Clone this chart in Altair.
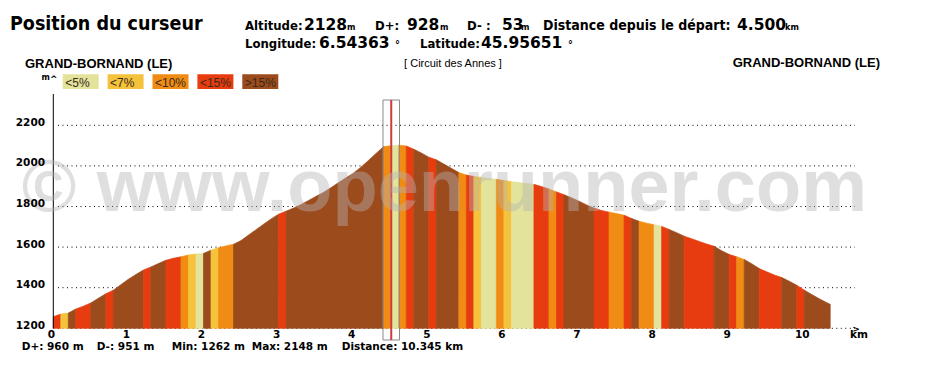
import altair as alt
import pandas as pd

# ---------------- data ----------------
DIST_KM = [0.0, 0.1, 0.2, 0.3, 0.4, 0.5, 0.6, 0.7, 0.8, 0.9,
           1.0, 1.1, 1.2, 1.3, 1.4, 1.5, 1.6, 1.7, 1.8, 1.9,
           2.0, 2.1, 2.2, 2.3, 2.4, 2.5, 2.6, 2.7, 2.8, 2.9,
           3.0, 3.1, 3.2, 3.3, 3.4, 3.5, 3.6, 3.7, 3.8, 3.9,
           4.0, 4.1, 4.2, 4.3, 4.4, 4.5, 4.6, 4.7, 4.8, 4.9,
           5.0, 5.1, 5.2, 5.3, 5.4, 5.5, 5.6, 5.7, 5.8, 5.9,
           6.0, 6.1, 6.2, 6.3, 6.4, 6.5, 6.6, 6.7, 6.8, 6.9,
           7.0, 7.1, 7.2, 7.3, 7.4, 7.5, 7.6, 7.7, 7.8, 7.9,
           8.0, 8.1, 8.2, 8.3, 8.4, 8.5, 8.6, 8.7, 8.8, 8.9,
           9.0, 9.1, 9.2, 9.3, 9.4, 9.5, 9.6, 9.7, 9.8, 9.9,
           10.0, 10.1, 10.2, 10.3, 10.345]
ALT_M = [1257, 1270, 1275, 1295, 1309, 1325, 1348, 1370, 1388, 1415,
         1442, 1465, 1487, 1502, 1519, 1535, 1545, 1552, 1561, 1566,
         1569, 1585, 1597, 1606, 1614, 1632, 1659, 1686, 1713, 1739,
         1762, 1777, 1792, 1810, 1830, 1850, 1870, 1893, 1918, 1942,
         1965, 1995, 2028, 2062, 2095, 2099, 2102, 2098, 2082, 2064,
         2043, 2030, 2009, 1988, 1967, 1955, 1948, 1943, 1938, 1934,
         1928, 1922, 1918, 1913, 1909, 1898, 1886, 1872, 1858, 1843,
         1826, 1808, 1792, 1780, 1772, 1765, 1757, 1741, 1727, 1718,
         1710, 1702, 1687, 1671, 1654, 1641, 1628, 1615, 1604, 1582,
         1564, 1552, 1539, 1518, 1494, 1478, 1463, 1450, 1432, 1412,
         1388, 1366, 1345, 1326, 1318]
# grade class of each stretch (L <5%, Y <7%, O <10%, R <15%, B >15%)
GRADE = list(
    "RYBRRBBRBB"
    "BBRBBRROYL"
    "BYOOBBBBBB"
    "RBBBBBBBBB"
    "BBBBOLORBB"
    "RBBBORYLLO"
    "YLLLRRORBB"
    "BBRROORBOO"
    "LRBBRRRRBB"
    "ROBBRRRBBR"
    "BBBB"
)
assert len(GRADE) == len(DIST_KM) - 1

GRADE_KEYS = ["L", "Y", "O", "R", "B"]
GRADE_LABELS = ["<5%", "<7%", "<10%", "<15%", ">15%"]
GRADE_COLORS = ["#e3e39c", "#f5c23b", "#f08c14", "#e73c10", "#9c4b1d"]

Y_TICKS = [1200, 1400, 1600, 1800, 2000, 2200]
X_TICKS = [0, 1, 2, 3, 4, 5, 6, 7, 8, 9, 10]
CURSOR_KM = 4.5

# ---------------- geometry (chart px = page px - 8) ----------------
W, H = 920, 345
XS = alt.Scale(domain=[0, 10], range=[45.3, 796.3], nice=False, zero=False)
YS = alt.Scale(domain=[1200, 2200], range=[320.3, 117.3], nice=False, zero=False)
CS = alt.Scale(domain=GRADE_KEYS, range=GRADE_COLORS)

# segments of equal grade class
rows = []
seg = 0
for i, g in enumerate(GRADE):
    if i > 0 and g != GRADE[i - 1]:
        seg += 1
    if i == 0 or g != GRADE[i - 1]:
        rows.append(dict(seg=seg, km=DIST_KM[i], alt=ALT_M[i], grade=g))
    rows.append(dict(seg=seg, km=DIST_KM[i + 1], alt=ALT_M[i + 1], grade=g))
prof = pd.DataFrame(rows)

HEAD = "DejaVu Sans Condensed"
NUM = "DejaVu Sans"
AX = "DejaVu Sans"
ARIAL = "Liberation Sans"


def txt(s, x, y, size, weight="normal", font=HEAD, align="left", color="#000000"):
    return alt.Chart(pd.DataFrame({"t": [s]})).mark_text(
        align=align, baseline="alphabetic", font=font, fontSize=size,
        fontWeight=weight, color=color
    ).encode(x=alt.value(x - 8), y=alt.value(y - 8), text="t:N")


grid = alt.Chart(pd.DataFrame({"v": Y_TICKS[1:]})).mark_rule(
    color="#000000", strokeWidth=1, strokeDash=[1, 3.5]
).encode(y=alt.Y("v:Q", scale=YS, axis=None), x=alt.value(50), x2=alt.value(847))

xaxis = alt.Chart(pd.DataFrame({"v": Y_TICKS[:1]})).mark_rule(
    color="#000000", strokeWidth=1, strokeDash=[1, 3.5]
).encode(y=alt.Y("v:Q", scale=YS, axis=None), x=alt.value(45.3), x2=alt.value(847))

area = alt.Chart(prof).mark_area(strokeWidth=0.7, opacity=1, interpolate="linear").encode(
    x=alt.X("km:Q", scale=XS, axis=None),
    y=alt.Y("alt:Q", scale=YS, axis=None, stack=False),
    y2=alt.datum(1200),
    color=alt.Color("grade:N", scale=CS, legend=None),
    stroke=alt.Stroke("grade:N", scale=CS, legend=None),
    detail="seg:N",
)

yaxis = alt.Chart(pd.DataFrame({"v": [0]})).mark_rule(color="#000000", strokeWidth=1).encode(
    x=alt.value(45.3), y=alt.value(86), y2=alt.value(320.3)
)

cur = pd.DataFrame({"km": [CURSOR_KM], "a": [CURSOR_KM - 0.11], "b": [CURSOR_KM + 0.11]})
cbox = alt.Chart(cur).mark_rect(fill="white", fillOpacity=0, stroke="#8a8a8a", strokeWidth=1).encode(
    x=alt.X("a:Q", scale=XS, axis=None), x2="b:Q", y=alt.value(92), y2=alt.value(332)
)
cline = alt.Chart(cur).mark_rule(color="#cf3b3b", strokeWidth=2).encode(
    x=alt.X("km:Q", scale=XS, axis=None), y=alt.value(92), y2=alt.value(332)
)

wm = alt.Chart(pd.DataFrame({"t": ["\u00a9 www.openrunner.com"]})).mark_text(
    align="left", baseline="alphabetic", font=ARIAL, fontSize=74, fontWeight="bold",
    color="#b4b4b4", opacity=0.42
).encode(x=alt.value(13.7), y=alt.value(203), text="t:N")

xlab = alt.Chart(pd.DataFrame({"k": X_TICKS, "t": [str(v) for v in X_TICKS]})).mark_text(
    align="center", baseline="alphabetic", font=AX, fontSize=10.5, fontWeight="bold",
    color="#000000", dx=-2
).encode(x=alt.X("k:Q", scale=XS, axis=None), y=alt.value(330.3), text="t:N")

ylab = alt.Chart(pd.DataFrame({"v": Y_TICKS, "t": [str(v) for v in Y_TICKS]})).mark_text(
    align="right", baseline="alphabetic", font=AX, fontSize=10.5, fontWeight="bold",
    color="#000000", dy=0.5
).encode(y=alt.Y("v:Q", scale=YS, axis=None), x=alt.value(37), text="t:N")

leg = pd.DataFrame({
    "grade": GRADE_KEYS,
    "label": GRADE_LABELS,
})
leg["x0"] = [54.7 + i * 44.9 for i in range(5)]
leg["x1"] = leg["x0"] + 36
leg["xt"] = leg["x0"] + 2.5
legbox = alt.Chart(leg).mark_rect().encode(
    x=alt.X("x0:Q", scale=None), x2="x1:Q", y=alt.value(66.3), y2=alt.value(81),
    color=alt.Color("grade:N", scale=CS, legend=None)
)
legtxt = alt.Chart(leg).mark_text(
    align="left", baseline="alphabetic", font=ARIAL, fontSize=12, color="#3a2a1a"
).encode(x=alt.X("xt:Q", scale=None), y=alt.value(78.7), text="label:N")

texts = [
    txt("Position du curseur", 10, 30, 19.5, "bold"),
    txt("Altitude:", 245, 30, 13, "bold"),
    txt("2128", 304, 30, 15.5, "bold", NUM),
    txt("m", 347, 30, 9, "bold"),
    txt("D+:", 375, 30, 13, "bold"),
    txt("928", 407, 30, 15.5, "bold", NUM),
    txt("m", 440, 30, 9, "bold"),
    txt("D- :", 467, 30, 13, "bold"),
    txt("53", 502, 30, 15.5, "bold", NUM),
    txt("m", 521, 30, 9, "bold"),
    txt("Distance depuis le d\u00e9part:", 543, 30, 14, "bold"),
    txt("4.500", 737, 30, 15.5, "bold", NUM),
    txt("km", 785, 30, 9, "bold"),
    txt("Longitude:", 245, 47.7, 13, "bold"),
    txt("6.54363", 319, 47.7, 15.5, "bold", NUM),
    txt("\u00b0", 395, 47.7, 11, "bold"),
    txt("Latitude:", 420, 47.7, 13, "bold"),
    txt("45.95651", 481, 47.7, 15.5, "bold", NUM),
    txt("\u00b0", 568, 47.7, 11, "bold"),
    txt("GRAND-BORNAND (LE)", 25, 68.3, 13, "bold", ARIAL),
    txt("GRAND-BORNAND (LE)", 880, 67.3, 13, "bold", ARIAL, align="right"),
    txt("[ Circuit des Annes ]", 453, 66.7, 11, "normal", ARIAL, align="center"),
    txt("m", 41.5, 80, 8, "bold", AX),
    txt("^", 50, 82, 9, "bold", AX),
    txt(">", 856, 332, 9, "bold", AX, align="center"),
    txt("km", 850, 338.3, 10.5, "bold", AX),
    txt("D+: 960 m", 21.7, 349.5, 10.5, "bold", AX),
    txt("D-: 951 m", 96.7, 349.5, 10.5, "bold", AX),
    txt("Min: 1262 m", 171.7, 349.5, 10.5, "bold", AX),
    txt("Max: 2148 m", 251.7, 349.5, 10.5, "bold", AX),
    txt("Distance: 10.345 km", 341.7, 349.5, 10.5, "bold", AX),
]

chart = alt.layer(
    grid, xaxis, area, yaxis, cbox, cline, wm, xlab, ylab, legbox, legtxt, *texts
).properties(
    width=W, height=H, padding=0, autosize=alt.AutoSizeParams(type="none")
).configure_view(strokeWidth=0)

chart.save("out.html", embed_options={"renderer": "svg", "actions": False})
